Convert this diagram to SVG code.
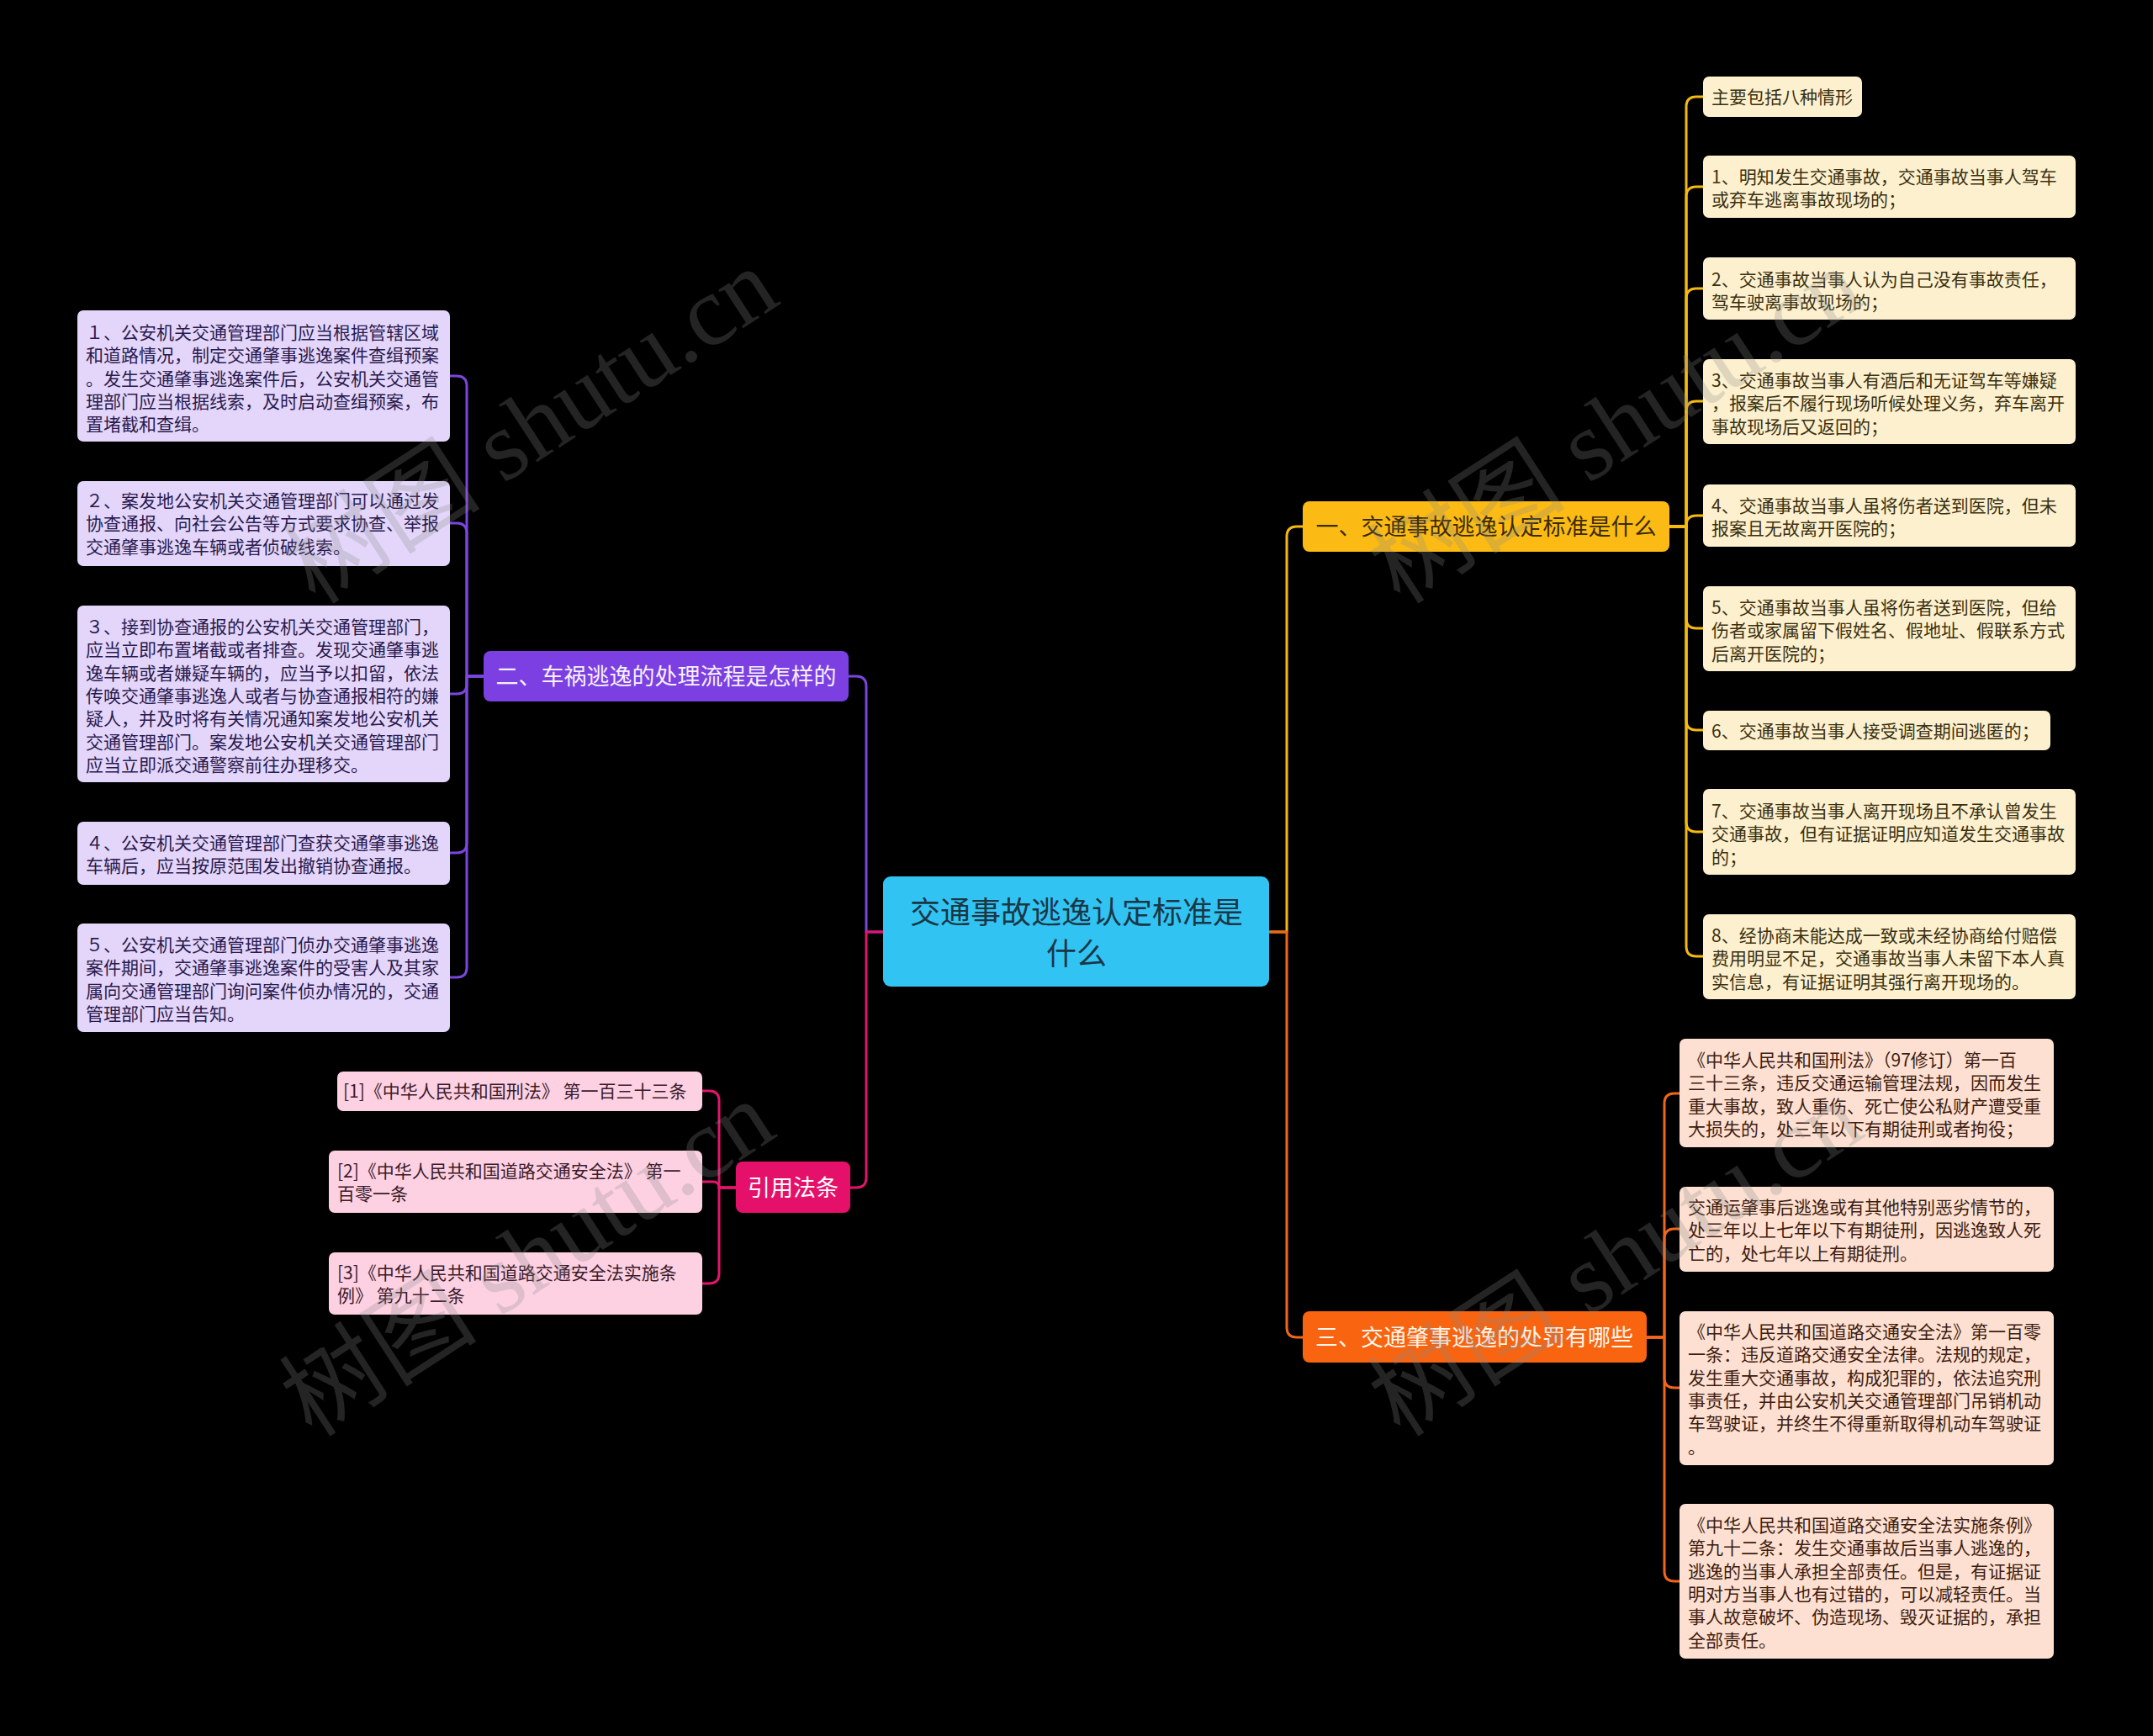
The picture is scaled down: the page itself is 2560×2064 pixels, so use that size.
<svg xmlns="http://www.w3.org/2000/svg" width="2560" height="2064" viewBox="0 0 2560 2064">
<style>
text { font-family: "Noto Sans CJK SC", "Noto Sans", sans-serif; }
.lt { font-size: 21px; }
.bt { font-size: 27px; }
.rt { font-size: 36px; fill: #1b3645; }
.c { fill: none; stroke-width: 3; stroke-linejoin: round; }
.cp { stroke: #7b45e0; }
.cy { stroke: #f5b912; }
.co { stroke: #f2661a; }
.ck { stroke: #e4146c; }
.np rect { fill: #e3d6fa; }
.np text { fill: #2a1a4e; }
.ny rect { fill: #fdf0cf; }
.ny text { fill: #3a3010; }
.no rect { fill: #fde0d1; }
.no text { fill: #3d1c10; }
.nk rect { fill: #fdd1e2; }
.nk text { fill: #3a1a2a; }
.wm { font-family: "Liberation Serif", "Noto Sans CJK SC", serif; font-size: 118px; fill: #8a8a8a; opacity: 0.26; }
</style>
<rect x="0" y="0" width="2560" height="2064" fill="#000"/>

<g id="connectors">
  <path class="c cp" d="M1050,1108 H1030 V816 Q1030,804 1018,804 H1009"/>
  <path class="c ck" d="M1050,1108 H1030 V1400 Q1030,1412 1018,1412 H1011"/>
  <path class="c cy" d="M1509,1108 H1530 V638 Q1530,626 1542,626 H1549"/>
  <path class="c co" d="M1509,1108 H1530 V1578 Q1530,1590 1542,1590 H1549"/>

  <path class="c cp" d="M575,804 H555 V459 Q555,447 543,447 H535"/>
  <path class="c cp" d="M575,804 H555 V634 Q555,622 543,622 H535"/>
  <path class="c cp" d="M575,804 H555 V813 Q555,825 543,825 H535"/>
  <path class="c cp" d="M575,804 H555 V1002 Q555,1014 543,1014 H535"/>
  <path class="c cp" d="M575,804 H555 V1150 Q555,1162 543,1162 H535"/>

  <path class="c cy" d="M1985,626 H2005 V127 Q2005,115 2017,115 H2025"/>
  <path class="c cy" d="M1985,626 H2005 V234 Q2005,222 2017,222 H2025"/>
  <path class="c cy" d="M1985,626 H2005 V355 Q2005,343 2017,343 H2025"/>
  <path class="c cy" d="M1985,626 H2005 V489 Q2005,477 2017,477 H2025"/>
  <path class="c cy" d="M1985,626 H2005 V625 Q2005,613 2017,613 H2025"/>
  <path class="c cy" d="M1985,626 H2005 V735 Q2005,747 2017,747 H2025"/>
  <path class="c cy" d="M1985,626 H2005 V856 Q2005,868 2017,868 H2025"/>
  <path class="c cy" d="M1985,626 H2005 V977 Q2005,989 2017,989 H2025"/>
  <path class="c cy" d="M1985,626 H2005 V1125 Q2005,1137 2017,1137 H2025"/>

  <path class="c co" d="M1958,1590 H1979 V1312 Q1979,1300 1991,1300 H1997"/>
  <path class="c co" d="M1958,1590 H1979 V1473 Q1979,1461 1991,1461 H1997"/>
  <path class="c co" d="M1958,1590 H1979 V1638 Q1979,1650 1991,1650 H1997"/>
  <path class="c co" d="M1958,1590 H1979 V1868 Q1979,1880 1991,1880 H1997"/>

  <path class="c ck" d="M875,1412 H855 V1309 Q855,1297 843,1297 H835"/>
  <path class="c ck" d="M875,1412 H855 Q855,1405 848,1405 H835"/>
  <path class="c ck" d="M875,1412 H855 V1514 Q855,1526 843,1526 H835"/>
</g>

<g id="root">
  <rect x="1050" y="1042" width="459" height="131" rx="9" fill="#31c4f3"/>
  <text class="rt" text-anchor="middle"><tspan x="1280" y="1098">交通事故逃逸认定标准是</tspan><tspan x="1280" y="1147">什么</tspan></text>
</g>

<g id="branch1">
  <rect x="1549" y="596" width="436" height="60" rx="8" fill="#fbbb14"/>
  <text class="bt" x="1767" y="636" text-anchor="middle" fill="#3a2a05">一、交通事故逃逸认定标准是什么</text>
</g>
<g id="branch2">
  <rect x="575" y="774" width="434" height="60" rx="8" fill="#7b3fe2"/>
  <text class="bt" x="792" y="814" text-anchor="middle" fill="#f6f0ff">二、车祸逃逸的处理流程是怎样的</text>
</g>
<g id="branch3">
  <rect x="1549" y="1559" width="409" height="61" rx="8" fill="#f8640f"/>
  <text class="bt" x="1753" y="1600" text-anchor="middle" fill="#fff6ee">三、交通肇事逃逸的处罚有哪些</text>
</g>
<g id="branch4">
  <rect x="875" y="1381" width="136" height="61" rx="8" fill="#e5106a"/>
  <text class="bt" x="943" y="1422" text-anchor="middle" fill="#fff">引用法条</text>
</g>

<g id="p1" class="np">
  <rect x="92" y="369" width="443" height="156" rx="7"/>
  <text class="lt"><tspan x="102" y="403">１、公安机关交通管理部门应当根据管辖区域</tspan><tspan x="102" y="430.3">和道路情况，制定交通肇事逃逸案件查缉预案</tspan><tspan x="102" y="457.6">。发生交通肇事逃逸案件后，公安机关交通管</tspan><tspan x="102" y="484.9">理部门应当根据线索，及时启动查缉预案，布</tspan><tspan x="102" y="512.2">置堵截和查缉。</tspan></text>
</g>
<g id="p2" class="np">
  <rect x="92" y="572" width="443" height="101" rx="7"/>
  <text class="lt"><tspan x="102" y="603">２、案发地公安机关交通管理部门可以通过发</tspan><tspan x="102" y="630.3">协查通报、向社会公告等方式要求协查、举报</tspan><tspan x="102" y="657.6">交通肇事逃逸车辆或者侦破线索。</tspan></text>
</g>
<g id="p3" class="np">
  <rect x="92" y="720" width="443" height="210" rx="7"/>
  <text class="lt"><tspan x="102" y="753">３、接到协查通报的公安机关交通管理部门，</tspan><tspan x="102" y="780.3">应当立即布置堵截或者排查。发现交通肇事逃</tspan><tspan x="102" y="807.6">逸车辆或者嫌疑车辆的，应当予以扣留，依法</tspan><tspan x="102" y="834.9">传唤交通肇事逃逸人或者与协查通报相符的嫌</tspan><tspan x="102" y="862.2">疑人，并及时将有关情况通知案发地公安机关</tspan><tspan x="102" y="889.5">交通管理部门。案发地公安机关交通管理部门</tspan><tspan x="102" y="916.8">应当立即派交通警察前往办理移交。</tspan></text>
</g>
<g id="p4" class="np">
  <rect x="92" y="977" width="443" height="75" rx="7"/>
  <text class="lt"><tspan x="102" y="1010">４、公安机关交通管理部门查获交通肇事逃逸</tspan><tspan x="102" y="1037.3">车辆后，应当按原范围发出撤销协查通报。</tspan></text>
</g>
<g id="p5" class="np">
  <rect x="92" y="1098" width="443" height="129" rx="7"/>
  <text class="lt"><tspan x="102" y="1131">５、公安机关交通管理部门侦办交通肇事逃逸</tspan><tspan x="102" y="1158.3">案件期间，交通肇事逃逸案件的受害人及其家</tspan><tspan x="102" y="1185.6">属向交通管理部门询问案件侦办情况的，交通</tspan><tspan x="102" y="1212.9">管理部门应当告知。</tspan></text>
</g>

<g id="y0" class="ny">
  <rect x="2025" y="91" width="189" height="48" rx="7"/>
  <text class="lt" x="2035" y="123">主要包括八种情形</text>
</g>
<g id="y1" class="ny">
  <rect x="2025" y="185" width="443" height="74" rx="7"/>
  <text class="lt"><tspan x="2035" y="218">1、明知发生交通事故，交通事故当事人驾车</tspan><tspan x="2035" y="245.3">或弃车逃离事故现场的；</tspan></text>
</g>
<g id="y2" class="ny">
  <rect x="2025" y="306" width="443" height="74" rx="7"/>
  <text class="lt"><tspan x="2035" y="340">2、交通事故当事人认为自己没有事故责任，</tspan><tspan x="2035" y="367.3">驾车驶离事故现场的；</tspan></text>
</g>
<g id="y3" class="ny">
  <rect x="2025" y="427" width="443" height="101" rx="7"/>
  <text class="lt"><tspan x="2035" y="460">3、交通事故当事人有酒后和无证驾车等嫌疑</tspan><tspan x="2035" y="487.3">，报案后不履行现场听候处理义务，弃车离开</tspan><tspan x="2035" y="514.6">事故现场后又返回的；</tspan></text>
</g>
<g id="y4" class="ny">
  <rect x="2025" y="576" width="443" height="74" rx="7"/>
  <text class="lt"><tspan x="2035" y="609">4、交通事故当事人虽将伤者送到医院，但未</tspan><tspan x="2035" y="636.3">报案且无故离开医院的；</tspan></text>
</g>
<g id="y5" class="ny">
  <rect x="2025" y="697" width="443" height="101" rx="7"/>
  <text class="lt"><tspan x="2035" y="730">5、交通事故当事人虽将伤者送到医院，但给</tspan><tspan x="2035" y="757.3">伤者或家属留下假姓名、假地址、假联系方式</tspan><tspan x="2035" y="784.6">后离开医院的；</tspan></text>
</g>
<g id="y6" class="ny">
  <rect x="2025" y="845" width="413" height="47" rx="7"/>
  <text class="lt" x="2035" y="877">6、交通事故当事人接受调查期间逃匿的；</text>
</g>
<g id="y7" class="ny">
  <rect x="2025" y="938" width="443" height="102" rx="7"/>
  <text class="lt"><tspan x="2035" y="972">7、交通事故当事人离开现场且不承认曾发生</tspan><tspan x="2035" y="999.3">交通事故，但有证据证明应知道发生交通事故</tspan><tspan x="2035" y="1026.6">的；</tspan></text>
</g>
<g id="y8" class="ny">
  <rect x="2025" y="1087" width="443" height="101" rx="7"/>
  <text class="lt"><tspan x="2035" y="1120">8、经协商未能达成一致或未经协商给付赔偿</tspan><tspan x="2035" y="1147.3">费用明显不足，交通事故当事人未留下本人真</tspan><tspan x="2035" y="1174.6">实信息，有证据证明其强行离开现场的。</tspan></text>
</g>

<g id="o1" class="no">
  <rect x="1997" y="1235" width="445" height="129" rx="7"/>
  <text class="lt"><tspan x="2007" y="1268">《中华人民共和国刑法》（97修订）第一百</tspan><tspan x="2007" y="1295.3">三十三条，违反交通运输管理法规，因而发生</tspan><tspan x="2007" y="1322.6">重大事故，致人重伤、死亡使公私财产遭受重</tspan><tspan x="2007" y="1349.9">大损失的，处三年以下有期徒刑或者拘役；</tspan></text>
</g>
<g id="o2" class="no">
  <rect x="1997" y="1411" width="445" height="101" rx="7"/>
  <text class="lt"><tspan x="2007" y="1443">交通运肇事后逃逸或有其他特别恶劣情节的，</tspan><tspan x="2007" y="1470.3">处三年以上七年以下有期徒刑，因逃逸致人死</tspan><tspan x="2007" y="1497.6">亡的，处七年以上有期徒刑。</tspan></text>
</g>
<g id="o3" class="no">
  <rect x="1997" y="1559" width="445" height="183" rx="7"/>
  <text class="lt"><tspan x="2007" y="1591">《中华人民共和国道路交通安全法》第一百零</tspan><tspan x="2007" y="1618.3">一条：违反道路交通安全法律。法规的规定，</tspan><tspan x="2007" y="1645.6">发生重大交通事故，构成犯罪的，依法追究刑</tspan><tspan x="2007" y="1672.9">事责任，并由公安机关交通管理部门吊销机动</tspan><tspan x="2007" y="1700.2">车驾驶证，并终生不得重新取得机动车驾驶证</tspan><tspan x="2007" y="1727.5">。</tspan></text>
</g>
<g id="o4" class="no">
  <rect x="1997" y="1788" width="445" height="184" rx="7"/>
  <text class="lt"><tspan x="2007" y="1821">《中华人民共和国道路交通安全法实施条例》</tspan><tspan x="2007" y="1848.3">第九十二条：发生交通事故后当事人逃逸的，</tspan><tspan x="2007" y="1875.6">逃逸的当事人承担全部责任。但是，有证据证</tspan><tspan x="2007" y="1902.9">明对方当事人也有过错的，可以减轻责任。当</tspan><tspan x="2007" y="1930.2">事人故意破坏、伪造现场、毁灭证据的，承担</tspan><tspan x="2007" y="1957.5">全部责任。</tspan></text>
</g>

<g id="k1" class="nk">
  <rect x="401" y="1274" width="434" height="47" rx="7"/>
  <text class="lt" x="408" y="1305">[1]《中华人民共和国刑法》 第一百三十三条</text>
</g>
<g id="k2" class="nk">
  <rect x="391" y="1368" width="444" height="74" rx="7"/>
  <text class="lt"><tspan x="401" y="1400">[2]《中华人民共和国道路交通安全法》 第一</tspan><tspan x="401" y="1427.3">百零一条</tspan></text>
</g>
<g id="k3" class="nk">
  <rect x="391" y="1489" width="444" height="74" rx="7"/>
  <text class="lt"><tspan x="401" y="1520.5">[3]《中华人民共和国道路交通安全法实施条</tspan><tspan x="401" y="1547.8">例》 第九十二条</tspan></text>
</g>

<g id="watermarks">
  <text class="wm" text-anchor="middle" transform="translate(653,540) rotate(-33)">树图 shutu.cn</text>
  <text class="wm" text-anchor="middle" transform="translate(1943,540) rotate(-33)">树图 shutu.cn</text>
  <text class="wm" text-anchor="middle" transform="translate(649,1530) rotate(-33)">树图 shutu.cn</text>
  <text class="wm" text-anchor="middle" transform="translate(1943,1530) rotate(-33)">树图 shutu.cn</text>
</g>
</svg>
